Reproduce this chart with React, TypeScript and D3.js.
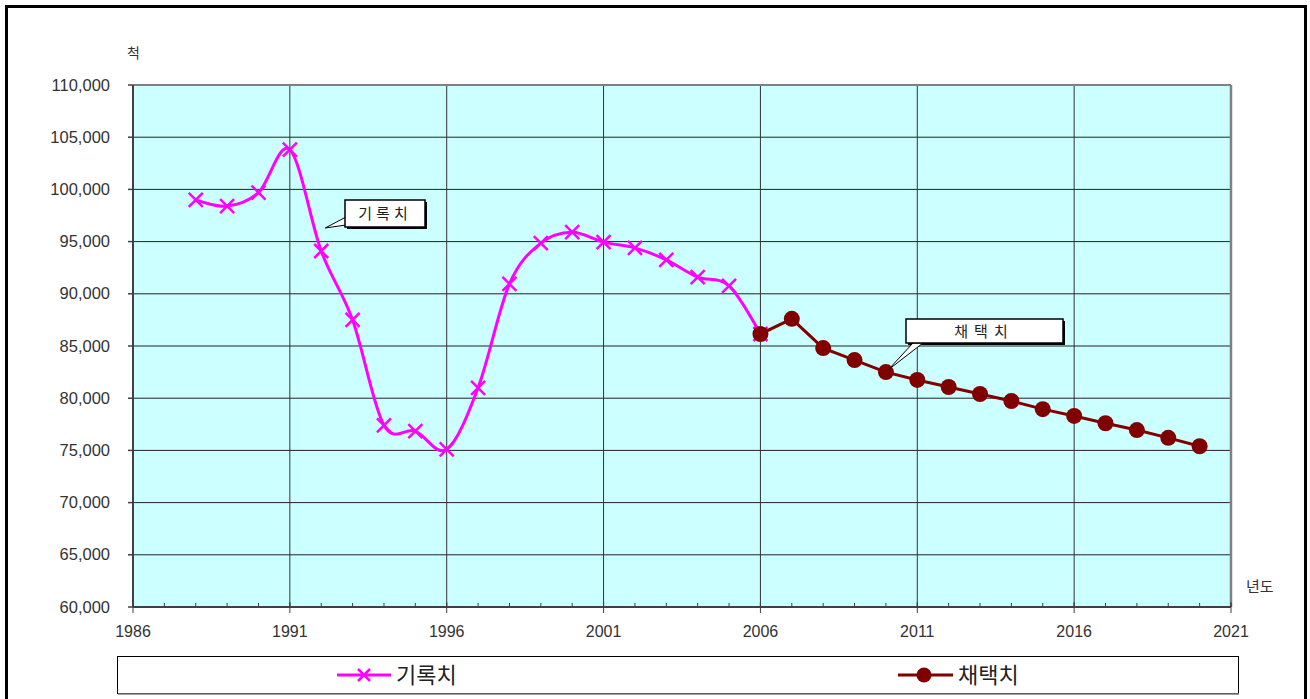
import React from "react";
import * as d3 from "d3";

const recordYears = [1988, 1989, 1990, 1991, 1992, 1993, 1994, 1995, 1996, 1997, 1998, 1999, 2000, 2001, 2002, 2003, 2004, 2005, 2006];
const recordValues = [99000, 98400, 99700, 103800, 94100, 87500, 77400, 76850, 75100, 81000, 90950, 94850, 95900, 94950, 94400, 93250, 91600, 90750, 86150];
const adoptYears = [2006, 2007, 2008, 2009, 2010, 2011, 2012, 2013, 2014, 2015, 2016, 2017, 2018, 2019, 2020];
const adoptValues = [86150, 87600, 84800, 83650, 82500, 81750, 81070, 80400, 79730, 78950, 78300, 77600, 76950, 76200, 75400];
const yTicks = [60000, 65000, 70000, 75000, 80000, 85000, 90000, 95000, 100000, 105000, 110000];
const xTicks = [1986, 1991, 1996, 2001, 2006, 2011, 2016, 2021];
const seriesNames = ["기록치", "채택치"];

const W = 1310, H = 699;
const L = 133, R = 1231, T = 85, B = 607;
const MAG = "#FF00FF", BRN = "#800000";
const numFont = "'Liberation Sans', Arial, sans-serif";
const korFont = "'Noto Sans CJK KR', sans-serif";

function XMark({ cx, cy, s = 7 }: { cx: number; cy: number; s?: number }) {
  return (
    <path d={`M${cx - s},${cy - s}L${cx + s},${cy + s}M${cx - s},${cy + s}L${cx + s},${cy - s}`} stroke={MAG} strokeWidth={2.5} fill="none" />
  );
}

export default function App() {
  const x = d3.scaleLinear().domain([1986, 2021]).range([L, R]);
  const y = d3.scaleLinear().domain([60000, 110000]).range([B, T]);
  const recPts: [number, number][] = recordYears.map((yr, i) => [x(yr), y(recordValues[i])]);
  const adPts: [number, number][] = adoptYears.map((yr, i) => [x(yr), y(adoptValues[i])]);
  const smooth = d3.line().curve(d3.curveCardinal.tension(0))(recPts) || "";
  const straight = d3.line()(adPts) || "";
  const minor = d3.range(1986, 2022);

  // callout pointer tips anchored near data points
  const c1 = { x: x(1992) + 4, y: y(recordValues[4]) - 23 };
  const c2 = { x: x(2010) + 2, y: y(adoptValues[4]) - 2 };

  return (
    <svg width={W} height={H} style={{ position: "absolute", left: 0, top: 0 }}>
      <rect x={0} y={0} width={W} height={H} fill="#fff" />
      <rect x={6.5} y={6.5} width={1299} height={720} fill="none" stroke="#000" strokeWidth={3} />
      <rect x={L} y={T} width={R - L} height={B - T} fill="#CCFFFF" />
      {yTicks.map((t) => (
        <line key={"h" + t} x1={L} x2={R} y1={y(t)} y2={y(t)} stroke="#222" strokeWidth={1} />
      ))}
      {xTicks.map((t) => (
        <line key={"v" + t} x1={x(t)} x2={x(t)} y1={T} y2={B} stroke="#333" strokeWidth={1} />
      ))}
      <line x1={L} x2={R} y1={T} y2={T} stroke="#808080" strokeWidth={2} />
      <line x1={R} x2={R} y1={T} y2={B} stroke="#808080" strokeWidth={2.5} />
      <line x1={L} x2={L} y1={T} y2={B} stroke="#404040" strokeWidth={2} />
      <line x1={L} x2={R} y1={B} y2={B} stroke="#404040" strokeWidth={2} />
      {yTicks.map((t) => (
        <line key={"yt" + t} x1={L - 5} x2={L} y1={y(t)} y2={y(t)} stroke="#404040" strokeWidth={1.5} />
      ))}
      {minor.map((t) => (
        <line key={"mt" + t} x1={x(t)} x2={x(t)} y1={B - 4} y2={B} stroke="#404040" strokeWidth={1} />
      ))}
      {xTicks.map((t) => (
        <line key={"xt" + t} x1={x(t)} x2={x(t)} y1={B - 5} y2={B + 6} stroke="#404040" strokeWidth={1} />
      ))}
      {yTicks.map((t) => (
        <text key={"yl" + t} x={110} y={y(t) + 5.5} textAnchor="end" fontFamily={numFont} fontSize={16.5} fill="#333">
          {d3.format(",")(t)}
        </text>
      ))}
      {xTicks.map((t) => (
        <text key={"xl" + t} x={x(t)} y={637} textAnchor="middle" fontFamily={numFont} fontSize={16} fill="#333">
          {t}
        </text>
      ))}
      <text x={127} y={58} fontFamily={korFont} fontSize={14} fill="#333">척</text>
      <text x={1246} y={592} fontFamily={korFont} fontSize={15} fill="#333">년도</text>

      <path d={smooth} fill="none" stroke={MAG} strokeWidth={3} />
      {recPts.map((p, i) => (
        <XMark key={"x" + i} cx={p[0]} cy={p[1]} />
      ))}
      <path d={straight} fill="none" stroke={BRN} strokeWidth={3} />
      {adPts.map((p, i) => (
        <circle key={"c" + i} cx={p[0]} cy={p[1]} r={8} fill={BRN} />
      ))}

      {/* callout 1 */}
      <g>
        <rect x={347} y={202} width={80} height={27} fill="#000" />
        <path d={`M346,217L${c1.x},${c1.y}L346,225Z`} fill="#fff" stroke="#000" strokeWidth={1} />
        <rect x={345} y={200} width={80} height={27} fill="#fff" stroke="#000" strokeWidth={1.5} />
        <text x={385} y={219} textAnchor="middle" fontFamily={korFont} fontSize={15} fill="#222" letterSpacing={4}>기록치</text>
      </g>
      {/* callout 2 */}
      <g>
        <rect x={908} y={321} width={157} height={24} fill="#000" />
        <path d={`M913,343L${c2.x},${c2.y}L923,343Z`} fill="#fff" stroke="#000" strokeWidth={1} />
        <rect x={906} y={319} width={157} height={24} fill="#fff" stroke="#000" strokeWidth={1.5} />
        <text x={984} y={337} textAnchor="middle" fontFamily={korFont} fontSize={15} fill="#222" letterSpacing={6}>채택치</text>
      </g>

      {/* legend */}
      <rect x={117.5} y={656.5} width={1121} height={37} fill="#fff" stroke="#000" strokeWidth={1} />
      <line x1={118} x2={1239} y1={694} y2={694} stroke="#808080" strokeWidth={1.5} />
      <line x1={337} x2={391} y1={675} y2={675} stroke={MAG} strokeWidth={3} />
      <XMark cx={364} cy={675} s={6} />
      <text x={396} y={683} fontFamily={korFont} fontSize={22} fill="#222">{seriesNames[0]}</text>
      <line x1={898} x2={953} y1={675} y2={675} stroke={BRN} strokeWidth={3} />
      <circle cx={924} cy={675} r={7.5} fill={BRN} />
      <text x={958} y={683} fontFamily={korFont} fontSize={22} fill="#222">{seriesNames[1]}</text>
    </svg>
  );
}
